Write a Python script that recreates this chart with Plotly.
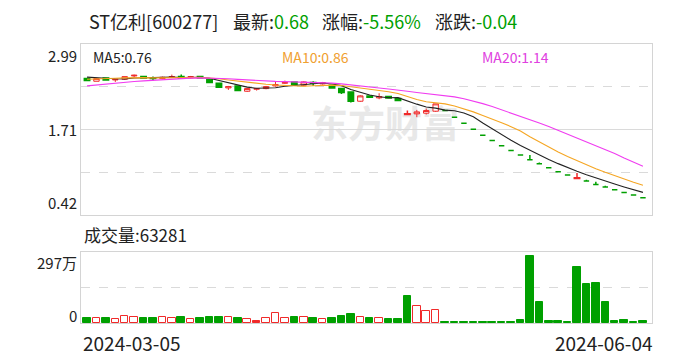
import plotly.graph_objects as go
import pandas as pd

# ---------------- data ----------------
stock_title = "ST亿利[600277]"
latest_label, latest_value = "最新:", "0.68"
pct_label, pct_value = "涨幅:", "-5.56%"
chg_label, chg_value = "涨跌:", "-0.04"
ma_labels = ["MA5:0.76", "MA10:0.86", "MA20:1.14"]
volume_label = "成交量:63281"
y_tick_labels = ["2.99", "1.71", "0.42"]
vol_tick_labels = ["297万", "0"]
date_labels = ["2024-03-05", "2024-06-04"]
watermark = "东方财富"

# closes of the 19 sessions before the window (only used for the moving averages)
pre_closes = [2.18, 2.20, 2.22, 2.24, 2.25, 2.27, 2.28, 2.30, 2.32, 2.34,
              2.38, 2.41, 2.43, 2.45, 2.47, 2.49, 2.51, 2.50, 2.52]

opens = [2.47, 2.43, 2.48, 2.45, 2.46, 2.51, 2.50, 2.48, 2.47, 2.49,
         2.50, 2.48, 2.50, 2.46, 2.40, 2.33, 2.36, 2.28, 2.31, 2.32,
         2.36, 2.40, 2.42, 2.37, 2.41, 2.39, 2.37, 2.32, 2.27, 2.13,
         2.21, 2.18, 2.20, 2.17, 1.93, 1.94, 1.95, 1.98, 1.99, 1.89,
         1.80, 1.71, 1.62, 1.54, 1.46, 1.39, 1.32, 1.25, 1.19, 1.13,
         1.07, 1.02, 0.97, 0.93, 0.88, 0.84, 0.80, 0.76, 0.72, 0.68]
highs = [2.48, 2.48, 2.49, 2.46, 2.50, 2.53, 2.51, 2.50, 2.50, 2.53,
         2.53, 2.51, 2.51, 2.47, 2.40, 2.36, 2.37, 2.33, 2.33, 2.36,
         2.42, 2.44, 2.43, 2.43, 2.43, 2.42, 2.38, 2.33, 2.28, 2.22,
         2.22, 2.25, 2.21, 2.17, 1.99, 2.00, 2.02, 2.09, 1.99, 1.89,
         1.80, 1.71, 1.62, 1.54, 1.46, 1.39, 1.32, 1.32, 1.21, 1.13,
         1.07, 1.02, 1.05, 0.95, 0.92, 0.86, 0.80, 0.76, 0.72, 0.68]
lows = [2.43, 2.43, 2.44, 2.42, 2.45, 2.48, 2.48, 2.44, 2.46, 2.48,
        2.47, 2.47, 2.47, 2.40, 2.33, 2.30, 2.28, 2.27, 2.29, 2.31,
        2.35, 2.39, 2.37, 2.36, 2.36, 2.38, 2.32, 2.24, 2.11, 2.12,
        2.18, 2.16, 2.17, 2.13, 1.93, 1.89, 1.93, 1.97, 1.99, 1.89,
        1.80, 1.71, 1.62, 1.54, 1.46, 1.39, 1.32, 1.25, 1.19, 1.13,
        1.07, 1.02, 0.97, 0.93, 0.88, 0.84, 0.80, 0.76, 0.72, 0.68]
closes = [2.44, 2.47, 2.45, 2.46, 2.50, 2.52, 2.48, 2.47, 2.49, 2.50,
          2.48, 2.50, 2.48, 2.41, 2.34, 2.35, 2.29, 2.32, 2.32, 2.35,
          2.38, 2.41, 2.38, 2.42, 2.40, 2.41, 2.33, 2.26, 2.13, 2.21,
          2.19, 2.20, 2.18, 2.14, 1.94, 1.97, 1.99, 2.09, 1.99, 1.89,
          1.80, 1.71, 1.62, 1.54, 1.46, 1.39, 1.32, 1.25, 1.19, 1.13,
          1.07, 1.02, 0.98, 0.93, 0.88, 0.84, 0.80, 0.76, 0.72, 0.68]
# volume in 万 (10k lots)
volumes = [21, 19.6, 21, 15.5, 28, 23.8, 21, 21, 23.8, 19.6,
           25, 15.5, 21, 25, 25, 23.8, 21, 15.5, 8.4, 19.6,
           40.5, 19.6, 25, 23.8, 21, 15.5, 21, 29, 37.6, 23.8,
           21, 19.6, 16.7, 16.7, 113, 70, 50, 53, 5, 4.5,
           4, 3.8, 3.5, 3.2, 3, 2.8, 12.5, 280, 88, 8.4,
           8.4, 4, 234, 163, 167, 88, 8.4, 12.5, 5, 6.3281]
price_range = [0.42, 2.99]
vol_range = [0, 297]

# ---------------- styling ----------------
W, H = 688, 360
L, R, T, B = 81, 652, 44, 323      # plot area in pixels
MAIN_BOTTOM, VOL_TOP = 215, 252
RED, GREEN = "#f02a2a", "#00a000"
MA_COLORS = ["#222222", "#f5a623", "#f03cf0"]
BORDER, GRID = "#d4d4d4", "#dadada"
FONT = "Noto Sans CJK SC, Noto Sans, sans-serif"
TXT = "#222222"


def px(x):
    return (x - L) / (R - L)


def py(y):
    return (B - y) / (B - T)


n = len(closes)
idx = list(range(n))
prev = [pre_closes[-1]] + closes[:-1]

# classify candles
cls = []
for o, c, p in zip(opens, closes, prev):
    if c > o:
        cls.append("hollow" if c >= p else "redfill")
    elif c < o:
        cls.append("green")
    else:
        cls.append("green" if c < p else "hollow")

vcls = []
for c, p in zip(closes, prev):
    vcls.append("hollow" if c > p else ("green" if c < p else "redfill"))

styles = {
    "hollow": dict(line=RED, fill="white", w=1),
    "redfill": dict(line=RED, fill=RED, w=1.5),
    "green": dict(line=GREEN, fill=GREEN, w=1.5),
}

fig = go.Figure()

for key, st in styles.items():
    sel = [i for i in idx if cls[i] == key]
    style = dict(line=dict(color=st["line"], width=st["w"]), fillcolor=st["fill"])
    fig.add_trace(go.Candlestick(
        x=sel, open=[opens[i] for i in sel], high=[highs[i] for i in sel],
        low=[lows[i] for i in sel], close=[closes[i] for i in sel],
        increasing=style, decreasing=style, whiskerwidth=0,
        showlegend=False, hoverinfo="skip", xaxis="x", yaxis="y"))

# moving averages
s = pd.Series(pre_closes + closes)
for win, col in zip([5, 10, 20], MA_COLORS):
    ma = s.rolling(win).mean().iloc[len(pre_closes):].tolist()
    fig.add_trace(go.Scatter(x=idx, y=ma, mode="lines",
                             line=dict(color=col, width=1.1),
                             showlegend=False, hoverinfo="skip",
                             xaxis="x", yaxis="y"))

# volume
for key, st in styles.items():
    sel = [i for i in idx if vcls[i] == key]
    fig.add_trace(go.Bar(
        x=sel, y=[volumes[i] for i in sel], width=0.8,
        marker=dict(color=st["fill"], line=dict(color=st["line"], width=1)),
        showlegend=False, hoverinfo="skip", xaxis="x2", yaxis="y2"))

xr = [-0.64, n - 1 + 0.96]
axis_common = dict(showline=True, linecolor=BORDER, linewidth=1, mirror=True,
                   zeroline=False, fixedrange=True)
fig.update_layout(
    width=W, height=H,
    margin=dict(l=L, r=W - R, t=T, b=H - B),
    paper_bgcolor="white", plot_bgcolor="white",
    bargap=0, boxgap=0.18,
    xaxis=dict(domain=[0, 1], range=xr, showticklabels=False, ticks="",
               showgrid=False, anchor="y", rangeslider=dict(visible=False),
               **axis_common),
    xaxis2=dict(domain=[0, 1], range=xr, showticklabels=False, ticks="",
                showgrid=False, anchor="y2", matches="x", **axis_common),
    yaxis=dict(domain=[py(MAIN_BOTTOM), 1], range=price_range,
               tickvals=[sum(price_range) / 2], showticklabels=False, ticks="",
               showgrid=True, gridcolor=GRID, gridwidth=1,
               minor=dict(tickvals=[price_range[0] + (price_range[1] - price_range[0]) * f for f in (0.25, 0.75)],
                          showgrid=True, gridcolor=GRID, griddash="dash", ticks=""),
               anchor="x", **axis_common),
    yaxis2=dict(domain=[0, py(VOL_TOP)], range=vol_range,
                tickvals=[vol_range[1] / 2], showticklabels=False, ticks="",
                showgrid=True, gridcolor=GRID, griddash="dash",
                anchor="x2", **axis_common),
    font=dict(family=FONT, color=TXT),
)

anns = []


def ann(text, x, y, xa, ya, size, color=TXT):
    anns.append(dict(text=text, x=px(x), y=py(y), xref="paper", yref="paper",
                     xanchor=xa, yanchor=ya, showarrow=False,
                     font=dict(size=size, color=color, family=FONT),
                     borderpad=0))


# header
ann(stock_title, 88, 21, "left", "middle", 18)
ann(latest_label + f"<span style='color:{GREEN}'>{latest_value}</span>", 232, 21, "left", "middle", 18)
ann(pct_label + f"<span style='color:{GREEN}'>{pct_value}</span>", 321, 21, "left", "middle", 18)
ann(chg_label + f"<span style='color:{GREEN}'>{chg_value}</span>", 434, 21, "left", "middle", 18)
# MA legend
for txt, x, col in zip(ma_labels, [92, 281, 481], ["#222222", "#f0a030", "#e040e0"]):
    ann(txt, x, 57, "left", "middle", 14, col)
# y labels
ann(y_tick_labels[0], 78, 44, "right", "top", 15)
ann(y_tick_labels[1], 78, 129, "right", "middle", 15)
ann(y_tick_labels[2], 78, 214, "right", "bottom", 15)
ann(volume_label, 83, 234, "left", "middle", 17)
ann(vol_tick_labels[0], 78, 262, "right", "middle", 15)
ann(vol_tick_labels[1], 78, 315, "right", "middle", 15)
ann(date_labels[0], 82, 342, "left", "middle", 19)
ann(date_labels[1], 654, 342, "right", "middle", 19)
fig.update_layout(annotations=anns)

fig.add_shape(type="rect", xref="paper", yref="paper",
              x0=px(300), x1=px(470), y0=py(150), y1=py(106),
              line=dict(width=0), fillcolor="rgba(0,0,0,0)", layer="below",
              label=dict(text="<b>" + watermark + "</b>", textposition="middle center",
                         font=dict(size=37, color="#e8e8e8", family=FONT)))

fig.write_html("out.html")
